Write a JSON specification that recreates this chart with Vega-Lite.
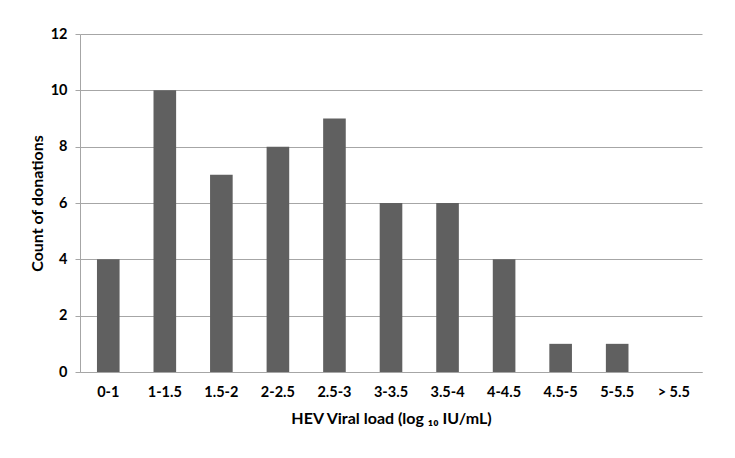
{
  "$schema": "https://vega.github.io/schema/vega-lite/v6.json",
  "autosize": {"type": "none"},
  "padding": {"left": 80, "top": 34, "right": 33, "bottom": 86},
  "width": 622,
  "height": 338,
  "background": "white",
  "data": {"values": [
    {"load": "0-1", "count": 4},
    {"load": "1-1.5", "count": 10},
    {"load": "1.5-2", "count": 7},
    {"load": "2-2.5", "count": 8},
    {"load": "2.5-3", "count": 9},
    {"load": "3-3.5", "count": 6},
    {"load": "3.5-4", "count": 6},
    {"load": "4-4.5", "count": 4},
    {"load": "4.5-5", "count": 1},
    {"load": "5-5.5", "count": 1},
    {"load": "> 5.5", "count": 0}
  ]},
  "mark": {"type": "bar", "color": "#606060"},
  "encoding": {
    "x": {
      "field": "load", "type": "nominal", "sort": null,
      "scale": {"paddingInner": 0.6, "paddingOuter": 0.3},
      "axis": {
        "title": "HEV Viral load (log ₁₀ IU/mL)",
        "labelAngle": 0, "ticks": false, "labelPadding": 13,
        "domainColor": "#a6a6a6", "titlePadding": 12, "titleFontSize": 16
      }
    },
    "y": {
      "field": "count", "type": "quantitative",
      "scale": {"domain": [0, 12]},
      "axis": {
        "title": "Count of donations",
        "values": [0, 2, 4, 6, 8, 10, 12],
        "tickSize": 5, "tickColor": "#a6a6a6", "domainColor": "#a6a6a6",
        "gridColor": "#a6a6a6", "labelPadding": 8, "titlePadding": 5, "titleFontSize": 16
      }
    }
  },
  "config": {
    "view": {"stroke": null},
    "axis": {
      "labelFont": "Lato", "labelFontSize": 14.5, "labelFontWeight": "bold", "labelColor": "black",
      "titleFont": "Lato", "titleFontSize": 16, "titleFontWeight": "bold", "titleColor": "black"
    }
  }
}
